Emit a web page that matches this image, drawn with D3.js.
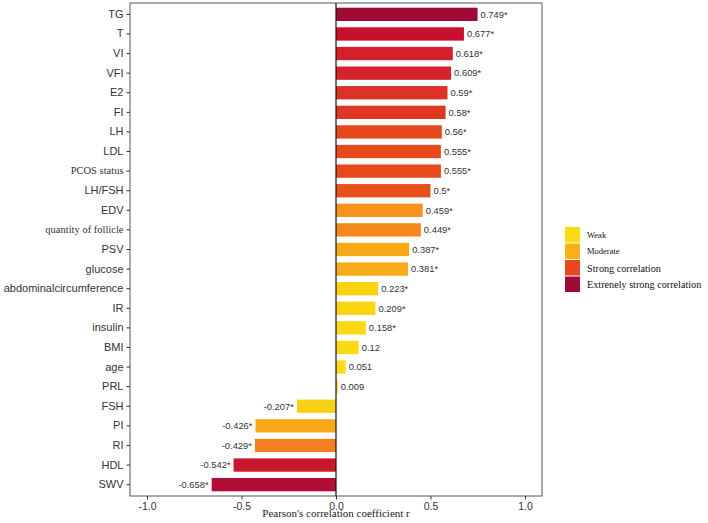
<!DOCTYPE html>
<html>
<head>
<meta charset="utf-8">
<script src="https://cdn.jsdelivr.net/npm/d3@7"></script>
<style>
  body { margin: 0; background: #fff; }
  svg { display: block; }
</style>
</head>
<body>
<svg id="drawing_region"></svg>
<script>
// variables, top to bottom
const categories = ["TG", "T", "VI", "VFI", "E2", "FI", "LH", "LDL", "PCOS status", "LH/FSH",
    "EDV", "quantity of follicle", "PSV", "glucose", "abdominalcircumference", "IR", "insulin",
    "BMI", "age", "PRL", "FSH", "PI", "RI", "HDL", "SWV"];
const values = [0.749, 0.677, 0.618, 0.609, 0.59, 0.58, 0.56, 0.555, 0.555, 0.5,
    0.459, 0.449, 0.387, 0.381, 0.223, 0.209, 0.158,
    0.12, 0.051, 0.009, -0.207, -0.426, -0.429, -0.542, -0.658];
const significant = [true, true, true, true, true, true, true, true, true, true,
    true, true, true, true, true, true, true,
    false, false, false, true, true, true, true, true];
const xticks = [-1.0, -0.5, 0.0, 0.5, 1.0];
const legendNames = ["Weak", "Moderate", "Strong correlation", "Extrenely strong correlation"];
const legendColors = ["#f9dc12", "#f8b016", "#e8461c", "#a00a36"];

const width = 708, height = 523;
const margin = {left: 130, right: 166, top: 3, bottom: 27};
const serifLabels = new Set(["PCOS status", "quantity of follicle"]);

const svg = d3.select('#drawing_region')
    .attr('width', width)
    .attr('height', height);

const xscale = d3.scaleLinear()
    .domain([-1.09, 1.09])
    .range([margin.left, width - margin.right]);
const yscale = d3.scaleBand()
    .domain(categories)
    .range([margin.top, height - margin.bottom])
    .paddingInner(0.32)
    .paddingOuter(0.24);

// bar fill follows the strength of r
const color = d3.scaleLinear()
    .domain([-0.658, -0.542, -0.429, -0.426, -0.207, 0, 0.2, 0.381, 0.449, 0.459, 0.5, 0.56, 0.609, 0.677, 0.749])
    .range(["#b30c38", "#c8172c", "#f57f1f", "#f6a81a", "#f8d113", "#f9dc18", "#f9d80f", "#f7ab18",
        "#f5881c", "#f7921c", "#e9501c", "#e6481c", "#d6222a", "#c8102e", "#9e0a36"]);

const data = categories.map((c, i) => ({name: c, r: values[i], sig: significant[i]}));

// panel
svg.append('rect')
    .attr('x', margin.left)
    .attr('y', margin.top)
    .attr('width', width - margin.right - margin.left)
    .attr('height', height - margin.bottom - margin.top)
    .attr('fill', 'white')
    .attr('stroke', '#555')
    .attr('stroke-width', 1);

svg.selectAll('rect.bar')
    .data(data)
    .enter()
    .append('rect')
    .attr('class', 'bar')
    .attr('x', d => xscale(Math.min(0, d.r)))
    .attr('y', d => yscale(d.name))
    .attr('width', d => Math.abs(xscale(d.r) - xscale(0)))
    .attr('height', yscale.bandwidth())
    .attr('fill', d => color(d.r));

svg.append('line')
    .attr('x1', xscale(0)).attr('x2', xscale(0))
    .attr('y1', margin.top).attr('y2', height - margin.bottom)
    .attr('stroke', '#111')
    .attr('stroke-width', 1.2);

svg.selectAll('text.val')
    .data(data)
    .enter()
    .append('text')
    .attr('class', 'val')
    .attr('x', d => d.r >= 0 ? xscale(d.r) + 3 : xscale(d.r) - 3)
    .attr('y', d => yscale(d.name) + yscale.bandwidth() / 2)
    .attr('dy', '0.35em')
    .attr('text-anchor', d => d.r >= 0 ? 'start' : 'end')
    .attr('font-family', 'Liberation Sans, Arial, sans-serif')
    .attr('font-size', 9.4)
    .attr('fill', '#333')
    .text(d => String(d.r) + (d.sig ? '*' : ''));

// axes
const yaxis_group = svg.append('g')
    .attr('transform', `translate(${margin.left},0)`)
    .call(d3.axisLeft(yscale).tickSize(3.5).tickPadding(3));
yaxis_group.select('.domain').remove();
yaxis_group.selectAll('.tick line').attr('stroke', '#333');
yaxis_group.selectAll('.tick text')
    .attr('fill', '#333')
    .attr('font-family', d => serifLabels.has(d) ? 'Liberation Serif, Times New Roman, serif' : 'Liberation Sans, Arial, sans-serif')
    .attr('font-size', d => serifLabels.has(d) ? 10.5 : 11);

const xaxis_group = svg.append('g')
    .attr('transform', `translate(0,${height - margin.bottom})`)
    .call(d3.axisBottom(xscale).tickValues(xticks).tickSize(3.5).tickPadding(3));
xaxis_group.select('.domain').remove();
xaxis_group.selectAll('.tick line').attr('stroke', '#333');
xaxis_group.selectAll('.tick text')
    .attr('fill', '#333')
    .attr('font-family', 'Liberation Sans, Arial, sans-serif')
    .attr('font-size', 10.5)
    .text(d => d3.format('.1f')(d).replace('−', '-'));

svg.append('text')
    .attr('x', xscale(0))
    .attr('y', 517)
    .attr('text-anchor', 'middle')
    .attr('font-family', 'Liberation Serif, Times New Roman, serif')
    .attr('font-size', 11)
    .attr('fill', '#222')
    .text("Pearson's correlation coefficient r");

// legend
const legend = svg.append('g').attr('transform', 'translate(565,227)');
legendNames.forEach((name, i) => {
    legend.append('rect')
        .attr('x', 0)
        .attr('y', i * 16.5)
        .attr('width', 15)
        .attr('height', 15.5)
        .attr('fill', legendColors[i]);
    legend.append('text')
        .attr('x', 22)
        .attr('y', i * 16.5 + 8)
        .attr('dy', '0.35em')
        .attr('font-family', 'Liberation Serif, Times New Roman, serif')
        .attr('font-size', i < 2 ? 8.5 : 10.2)
        .attr('fill', '#111')
        .text(name);
});
</script>
</body>
</html>
